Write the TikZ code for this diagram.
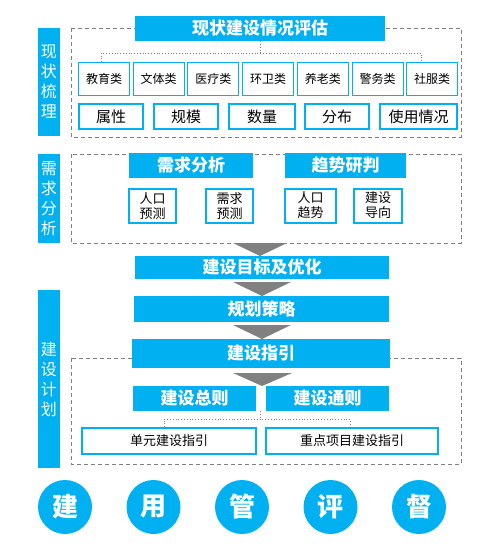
\documentclass[tikz,border=0pt]{standalone}
\usepackage{fontspec}
\setmainfont{Noto Sans CJK SC}
\definecolor{skyblue}{HTML}{00B0F0}
\definecolor{arrowgray}{HTML}{808080}

\begin{document}
\begin{tikzpicture}[x=1pt, y=-1pt,
        bar node/.style={fill=skyblue, text=white, minimum width=22, inner sep=0, align=center, font=\fontsize{16}{20}\selectfont},
        head node/.style={fill=skyblue, text=white, inner sep=0, font=\bfseries\fontsize{17}{17}\selectfont},
        cat node/.style={draw=skyblue, line width=1, fill=white, minimum width=51, minimum height=33, inner sep=0, font=\fontsize{12}{12}\selectfont},
        attr node/.style={draw=skyblue, line width=2, fill=white, minimum height=25, inner sep=0, font=\fontsize{15}{15}\selectfont},
        sub node/.style={draw=skyblue, line width=2, fill=white, minimum height=34, inner sep=0, align=center, font=\fontsize{13}{15}\selectfont},
        ring node/.style={circle, fill=skyblue, text=white, minimum size=54, inner sep=0, font=\bfseries\fontsize{26}{26}\selectfont},
        dash frame/.style={draw=arrowgray, line width=1, dash pattern=on 4 off 3},
        link/.style={draw=arrowgray, line width=0.8, dotted},
        down arrow/.style={fill=arrowgray}]

    \useasboundingbox (0,0) rectangle (481,544);

    % Ramki
    \draw[dash frame] (71,28) rectangle (461,137);
    \draw[dash frame] (71,154) rectangle (461,243);
    \draw[dash frame] (71,358) rectangle (461,464);

    % Paski boczne
    \node[bar node, minimum height=108] (bar1) at (49,82) {现\\状\\梳\\理};
    \node[bar node, minimum height=89] (bar2) at (49,198.5) {需\\求\\分\\析};
    \node[bar node, minimum height=178] (bar3) at (49,379) {建\\设\\计\\划};

    %现状梳理
    \node[head node, minimum width=250, minimum height=25] (title) at (260,28.5) {现状建设情况评估};
    \foreach \name [count=\i] in {教育类,文体类,医疗类,环卫类,养老类,警务类,社服类}
        \node[cat node] (c\i) at (49.3+54.7*\i,79) {\name};
    \draw[link] (title.south) -- ++(0,12) coordinate (hub1);
    \draw[link] ([xshift=-3]c1.north) |- (hub1) -| ([xshift=-11]c7.north);

    \node[attr node, minimum width=64] (a1) at (111,116.5) {属性};
    \node[attr node, minimum width=64] (a2) at (186,116.5) {规模};
    \node[attr node, minimum width=66] (a3) at (262,116.5) {数量};
    \node[attr node, minimum width=64] (a4) at (337,116.5) {分布};
    \node[attr node, minimum width=77] (a5) at (418.5,116.5) {使用情况};

    % 需求分析
    \node[head node, minimum width=124, minimum height=25] (h1) at (191,165.5) {需求分析};
    \node[head node, minimum width=121, minimum height=25] (h2) at (345.5,165.5) {趋势研判};
    \node[sub node, minimum width=47] (s1) at (152.5,206) {人口\\预测};
    \node[sub node, minimum width=47] (s2) at (229.5,206) {需求\\预测};
    \node[sub node, minimum width=51] (s3) at (310.5,205.5) {人口\\趋势};
    \node[sub node, minimum width=48] (s4) at (378,205.5) {建设\\导向};

    % Strzalki i etapy
    \fill[down arrow] (233,243) -- (287,243) -- (260,256) -- cycle;
    \node[head node, minimum width=254, minimum height=23] (goal) at (262,267.5) {建设目标及优化};
    \fill[down arrow] (233,282) -- (291,282) -- (262,296) -- cycle;
    \node[head node, minimum width=255, minimum height=26] (plan) at (261.5,309) {规划策略};
    \fill[down arrow] (233,325) -- (291,325) -- (262,339) -- cycle;
    \node[head node, minimum width=258, minimum height=29] (guide) at (261,353.5) {建设指引};
    \fill[down arrow] (233,373) -- (292,373) -- (262,386) -- cycle;

    % 建设计划
    \node[head node, minimum width=123, minimum height=25] (r1) at (194.5,398.5) {建设总则};
    \node[head node, minimum width=123, minimum height=25] (r2) at (327.5,398.5) {建设通则};
    \node[sub node, minimum width=174, minimum height=26] (u1) at (169,441) {单元建设指引};
    \node[sub node, minimum width=172, minimum height=26] (u2) at (352,441) {重点项目建设指引};
    \coordinate (split) at (260,411);
    \draw[link] (split) -- ++(0,8) coordinate (hub2);
    \draw[link] ([xshift=-5]u1.north) |- (hub2) -| ([xshift=-2]u2.north);

    % Kola
    \foreach \ch [count=\i] in {建,用,管,评,督}
        \node[ring node] (o\i) at (-23.5+88.5*\i,507) {\ch};
\end{tikzpicture}
\end{document}
